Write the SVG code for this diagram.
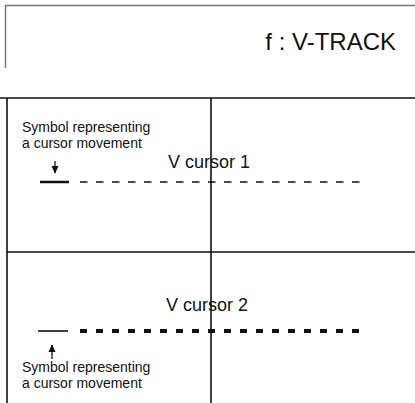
<svg xmlns="http://www.w3.org/2000/svg" width="415" height="403" viewBox="0 0 415 403">
<style>
.hdr{stroke:#777;stroke-width:1.5;fill:none}
.frame{stroke:#111;stroke-width:1.6;fill:none}
.lbl{font-family:"Liberation Sans",Arial,sans-serif;fill:#111}
.small{font-size:14px}
.big{font-size:18px}
.title{font-size:24px}
.arr{stroke:#111;stroke-width:1.3;fill:none}
</style>
<defs>
<marker id="ah" viewBox="0 0 10 10" refX="9" refY="5" markerWidth="6" markerHeight="6" orient="auto" markerUnits="strokeWidth">
<path d="M0,0.5 L10,5 L0,9.5 z" fill="#111"/>
</marker>
</defs>
<rect width="415" height="403" fill="#fff"/>
<g id="header">
<path class="hdr" d="M5,5.5 H415 M5.5,5 V68"/>
<text class="lbl title" x="396" y="50" text-anchor="end">f : V-TRACK</text>
<path class="frame" d="M0,98 H415"/>
</g>
<g id="frame">
<path class="frame" d="M7,98 V403 M211,98 V403 M7,252 H415"/>
</g>
<g id="cursor1">
<text class="lbl big" x="168" y="168">V cursor 1</text>
<text class="lbl small" x="22" y="132">Symbol representing</text>
<text class="lbl small" x="22" y="148">a cursor movement</text>
</g>
<g id="cursor2">
<text class="lbl big" x="166" y="311">V cursor 2</text>
<text class="lbl small" x="22" y="372">Symbol representing</text>
<text class="lbl small" x="22" y="388">a cursor movement</text>
</g>
<g id="connectors">
<line class="arr" x1="55" y1="161" x2="55" y2="173" marker-end="url(#ah)"/>
<line x1="40" y1="182" x2="69" y2="182" stroke="#111" stroke-width="2.5"/>
<line x1="80" y1="182" x2="360" y2="182" stroke="#111" stroke-width="1.5" stroke-dasharray="7.5 8.5"/>
<line class="arr" x1="52" y1="359" x2="52" y2="345" marker-end="url(#ah)"/>
<line x1="38" y1="331" x2="68" y2="331" stroke="#111" stroke-width="1.6"/>
<line x1="80" y1="331" x2="360" y2="331" stroke="#111" stroke-width="4" stroke-dasharray="7 9"/>
</g>
</svg>
